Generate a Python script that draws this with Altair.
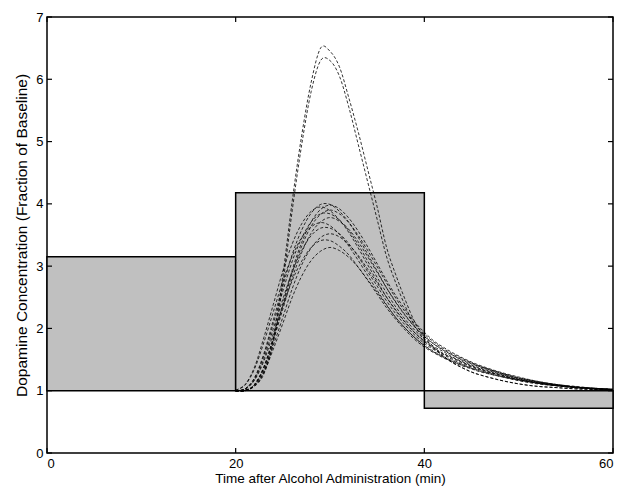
import altair as alt
import pandas as pd

# ---- data ----
x_grid = [20, 21, 22, 23, 24, 25, 26, 27, 28, 29, 30, 31, 32, 33, 34, 35, 36, 37,
          38, 39, 40, 41, 42, 43, 44, 45, 46, 48, 50, 52, 54, 56, 58, 60]

tall_1 = [1.0, 1.01, 1.08, 1.3, 1.85, 2.85, 4.05, 5.1, 5.95, 6.5, 6.45, 6.2, 5.7, 5.15, 4.55, 3.95, 3.3, 2.85,
          2.45, 2.1, 1.88, 1.7, 1.56, 1.45, 1.37, 1.3, 1.25, 1.17, 1.11, 1.07, 1.05, 1.03, 1.02, 1.01]
tall_2 = [1.0, 1.01, 1.07, 1.27, 1.78, 2.72, 3.9, 4.95, 5.8, 6.3, 6.3, 6.05, 5.55, 4.95, 4.35, 3.75, 3.15, 2.72,
          2.35, 2.03, 1.84, 1.68, 1.55, 1.45, 1.37, 1.3, 1.25, 1.17, 1.11, 1.07, 1.05, 1.03, 1.02, 1.01]
curve_1 = [1.0, 1.03, 1.21, 1.6, 2.14, 2.68, 3.19, 3.58, 3.85, 3.99, 3.99, 3.88, 3.7, 3.46, 3.19, 2.92, 2.65, 2.41,
           2.2, 2.02, 1.87, 1.75, 1.66, 1.57, 1.5, 1.44, 1.38, 1.29, 1.2, 1.14, 1.1, 1.06, 1.04, 1.02]
curve_2 = [1.01, 1.1, 1.38, 1.86, 2.39, 2.92, 3.36, 3.68, 3.88, 3.95, 3.89, 3.74, 3.54, 3.29, 3.02, 2.76, 2.5, 2.28,
           2.09, 1.93, 1.8, 1.69, 1.6, 1.53, 1.46, 1.4, 1.35, 1.26, 1.18, 1.13, 1.09, 1.05, 1.03, 1.02]
curve_3 = [1.0, 1.0, 1.1, 1.38, 1.84, 2.36, 2.89, 3.32, 3.64, 3.83, 3.9, 3.84, 3.7, 3.49, 3.25, 2.99, 2.73, 2.48,
           2.26, 2.07, 1.91, 1.78, 1.68, 1.59, 1.52, 1.45, 1.39, 1.29, 1.21, 1.15, 1.1, 1.06, 1.04, 1.02]
curve_4 = [1.0, 1.03, 1.2, 1.57, 2.08, 2.6, 3.08, 3.45, 3.71, 3.84, 3.84, 3.74, 3.57, 3.34, 3.08, 2.82, 2.57, 2.34,
           2.14, 1.97, 1.83, 1.71, 1.63, 1.54, 1.47, 1.41, 1.36, 1.27, 1.19, 1.13, 1.09, 1.06, 1.03, 1.02]
curve_5 = [1.0, 1.0, 1.1, 1.36, 1.81, 2.31, 2.81, 3.22, 3.53, 3.71, 3.78, 3.72, 3.59, 3.39, 3.15, 2.9, 2.65, 2.42,
           2.21, 2.03, 1.88, 1.75, 1.65, 1.57, 1.49, 1.43, 1.38, 1.28, 1.2, 1.14, 1.09, 1.06, 1.04, 1.02]
curve_6 = [1.01, 1.09, 1.35, 1.78, 2.27, 2.76, 3.16, 3.46, 3.63, 3.7, 3.65, 3.51, 3.32, 3.09, 2.85, 2.61, 2.38, 2.17,
           2.0, 1.85, 1.73, 1.63, 1.55, 1.48, 1.42, 1.36, 1.32, 1.24, 1.17, 1.12, 1.08, 1.05, 1.03, 1.02]
curve_7 = [1.0, 1.03, 1.18, 1.52, 2.0, 2.47, 2.91, 3.25, 3.49, 3.61, 3.61, 3.52, 3.36, 3.15, 2.91, 2.68, 2.44, 2.23,
           2.05, 1.89, 1.76, 1.66, 1.58, 1.5, 1.43, 1.38, 1.33, 1.25, 1.18, 1.12, 1.08, 1.05, 1.03, 1.02]
curve_8 = [1.0, 1.0, 1.09, 1.33, 1.73, 2.18, 2.64, 3.02, 3.29, 3.46, 3.52, 3.47, 3.34, 3.17, 2.95, 2.73, 2.5, 2.29,
           2.1, 1.93, 1.79, 1.68, 1.59, 1.52, 1.45, 1.39, 1.34, 1.25, 1.18, 1.13, 1.09, 1.06, 1.03, 1.02]
curve_9 = [1.0, 1.02, 1.17, 1.48, 1.92, 2.36, 2.77, 3.08, 3.3, 3.41, 3.41, 3.32, 3.18, 2.98, 2.77, 2.55, 2.33, 2.14,
           1.97, 1.82, 1.7, 1.61, 1.53, 1.46, 1.4, 1.35, 1.3, 1.23, 1.16, 1.11, 1.08, 1.05, 1.03, 1.02]
curve_10 = [1.0, 1.0, 1.08, 1.3, 1.67, 2.08, 2.5, 2.84, 3.09, 3.24, 3.3, 3.25, 3.14, 2.98, 2.78, 2.58, 2.37, 2.17,
            2.0, 1.85, 1.72, 1.62, 1.54, 1.47, 1.41, 1.36, 1.31, 1.23, 1.17, 1.12, 1.08, 1.05, 1.03, 1.02]
curve_11 = [1.0, 1.0, 1.1, 1.39, 1.86, 2.4, 2.94, 3.38, 3.71, 3.91, 3.98, 3.92, 3.77, 3.56, 3.31, 3.04, 2.77, 2.52,
            2.3, 2.1, 1.94, 1.8, 1.7, 1.61, 1.53, 1.46, 1.4, 1.3, 1.22, 1.15, 1.1, 1.07, 1.04, 1.02]

curves = {"tall_1": tall_1, "tall_2": tall_2, "c1": curve_1, "c2": curve_2, "c3": curve_3,
          "c4": curve_4, "c5": curve_5, "c6": curve_6, "c7": curve_7, "c8": curve_8,
          "c9": curve_9, "c10": curve_10, "c11": curve_11}

# gray blocks (start, end, low, high)
block_start = [0, 20, 40]
block_end = [20, 40, 60]
block_low = [1.0, 1.0, 0.72]
block_high = [3.15, 4.18, 1.0]

x_ticks = [0, 20, 40, 60]
y_ticks = [0, 1, 2, 3, 4, 5, 6, 7]

# ---- build tables ----
rows = []
for name, vals in curves.items():
    for xv, yv in zip(x_grid, vals):
        rows.append({"curve": name, "t": xv, "v": yv})
curve_df = pd.DataFrame(rows)
block_df = pd.DataFrame({"x1": block_start, "x2": block_end, "y1": block_low, "y2": block_high})
xt_df = pd.DataFrame({"t": x_ticks})
yt_df = pd.DataFrame({"v": y_ticks})

W, H = 566, 436
FONT = "Liberation Sans"

xs = alt.Scale(domain=[0, 60], nice=False, zero=False)
ys = alt.Scale(domain=[0, 7], nice=False, zero=False)

x_axis = alt.Axis(values=x_ticks, format="d", ticks=False, domain=False, grid=False, labelPadding=4,
                  title="Time after Alcohol Administration (min)", titlePadding=1,
                  labelFontSize=13, titleFontSize=13.5, labelFont=FONT, titleFont=FONT,
                  titleFontWeight="normal", labelColor="black", titleColor="black")
y_axis = alt.Axis(values=y_ticks, format="d", ticks=False, domain=False, grid=False, labelPadding=4,
                  title="Dopamine Concentration (Fraction of Baseline)", titlePadding=6,
                  labelFontSize=13, titleFontSize=15.5, labelFont=FONT, titleFont=FONT,
                  titleFontWeight="normal", labelColor="black", titleColor="black")

blocks = alt.Chart(block_df).mark_rect(fill="#c0c0c0", stroke="black", strokeWidth=1.5).encode(
    x=alt.X("x1:Q", scale=xs, axis=x_axis),
    x2="x2:Q",
    y=alt.Y("y1:Q", scale=ys, axis=y_axis),
    y2="y2:Q",
)

lines = alt.Chart(curve_df).mark_line(color="black", strokeWidth=0.8, strokeDash=[3, 2],
                                      interpolate="cardinal").encode(
    x=alt.X("t:Q", scale=xs),
    y=alt.Y("v:Q", scale=ys),
    detail="curve:N",
)

tk = 5
yt_left = alt.Chart(yt_df).mark_rule(color="black", strokeWidth=1.2).encode(
    y=alt.Y("v:Q", scale=ys), x=alt.value(0), x2=alt.value(tk))
yt_right = alt.Chart(yt_df).mark_rule(color="black", strokeWidth=1.2).encode(
    y=alt.Y("v:Q", scale=ys), x=alt.value(W), x2=alt.value(W - tk))
xt_bottom = alt.Chart(xt_df).mark_rule(color="black", strokeWidth=1.2).encode(
    x=alt.X("t:Q", scale=xs), y=alt.value(H), y2=alt.value(H - tk))
xt_top = alt.Chart(xt_df).mark_rule(color="black", strokeWidth=1.2).encode(
    x=alt.X("t:Q", scale=xs), y=alt.value(0), y2=alt.value(tk))

chart = alt.layer(blocks, lines, yt_left, yt_right, xt_bottom, xt_top).properties(
    width=W, height=H,
    autosize=alt.AutoSizeParams(type="none"),
    padding={"left": 39, "top": 9, "right": 12, "bottom": 33},
    background="white",
).configure_view(stroke="black", strokeWidth=1.5)

chart.save("out.html", embed_options={"renderer": "svg", "actions": False})
